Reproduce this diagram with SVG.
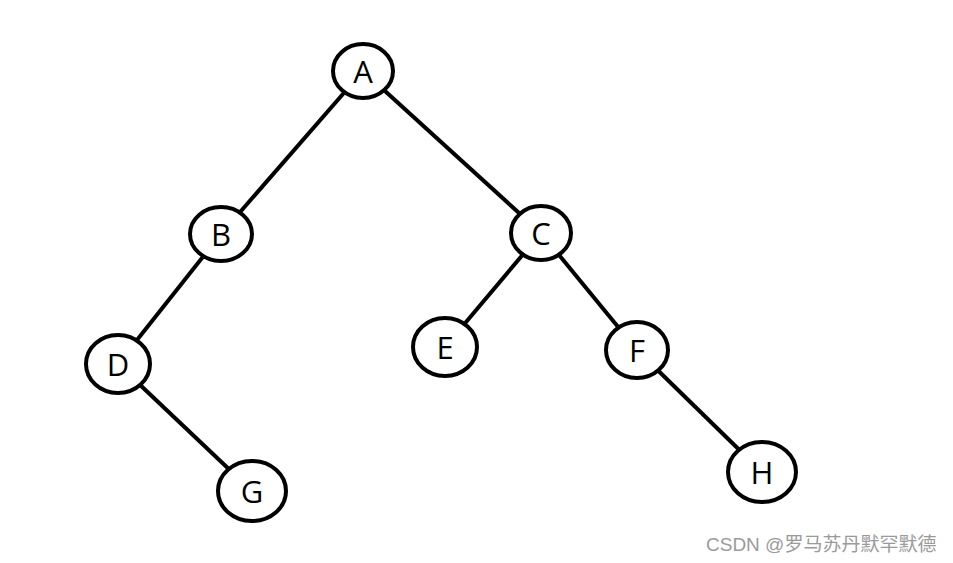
<svg xmlns="http://www.w3.org/2000/svg" width="953" height="563" viewBox="0 0 953 563">
<style>
.edge{stroke:#000;stroke-width:4;fill:none}
.node ellipse{fill:#fff;stroke:#000;stroke-width:4}
.node text{font-family:"Open Sans","Noto Sans","DejaVu Sans",sans-serif;font-size:31px;fill:#000;text-anchor:middle}
.wm{font-family:"Liberation Sans","Noto Sans CJK SC",sans-serif;font-size:19px;fill:#9a9a9a}
</style>
<rect width="953" height="563" fill="#fff"/>
<g id="connectors">
<line class="edge" x1="363" y1="71" x2="221" y2="234"/>
<line class="edge" x1="363" y1="71" x2="541" y2="233"/>
<line class="edge" x1="221" y1="234" x2="118" y2="364"/>
<line class="edge" x1="118" y1="364" x2="252" y2="491"/>
<line class="edge" x1="541" y1="233" x2="445" y2="347"/>
<line class="edge" x1="541" y1="233" x2="637" y2="350"/>
<line class="edge" x1="637" y1="350" x2="762" y2="472"/>
</g>
<g id="node-A" class="node"><ellipse cx="363" cy="71" rx="30" ry="27"/><text x="363" y="83">A</text></g>
<g id="node-B" class="node"><ellipse cx="221" cy="234" rx="31" ry="27"/><text x="221" y="246">B</text></g>
<g id="node-C" class="node"><ellipse cx="541" cy="233" rx="30" ry="27"/><text x="541" y="245">C</text></g>
<g id="node-D" class="node"><ellipse cx="118" cy="364" rx="32" ry="29"/><text x="118" y="376">D</text></g>
<g id="node-E" class="node"><ellipse cx="445" cy="347" rx="32" ry="29"/><text x="445" y="359">E</text></g>
<g id="node-F" class="node"><ellipse cx="637" cy="350" rx="31" ry="28"/><text x="637" y="362">F</text></g>
<g id="node-G" class="node"><ellipse cx="252" cy="491" rx="34" ry="30"/><text x="252" y="503">G</text></g>
<g id="node-H" class="node"><ellipse cx="762" cy="472" rx="34" ry="30"/><text x="762" y="484">H</text></g>
<text class="wm" x="706" y="551">CSDN @罗马苏丹默罕默德</text>
</svg>
